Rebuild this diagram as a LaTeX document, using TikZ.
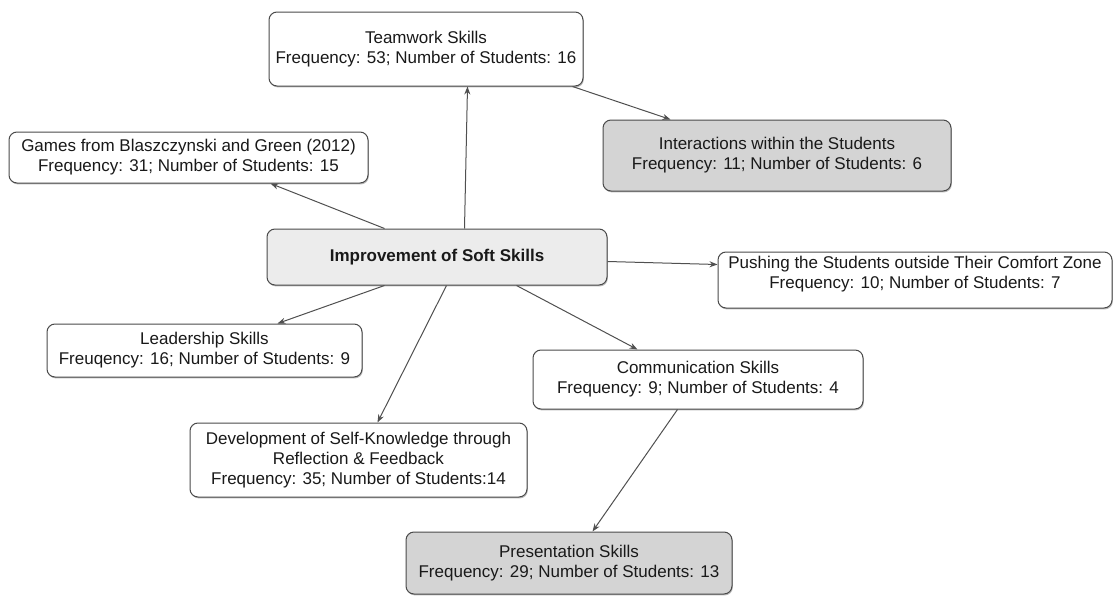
\documentclass[tikz,border=0pt]{standalone}
\usepackage{fontspec}
\setmainfont{Liberation Sans}
\usetikzlibrary{calc,arrows.meta,shadows}

\definecolor{edgegray}{HTML}{4A4A4A}
\definecolor{linkgray}{HTML}{505050}
\definecolor{hifill}{HTML}{D4D4D4}
\definecolor{corefill}{HTML}{ECECEC}

\tikzset{
  box/.style={draw=edgegray, line width=1pt, rounded corners=8pt, fill=white,
    align=center, inner sep=2pt, text=black!90,
    font=\fontsize{17}{20}\selectfont,
    drop shadow={shadow xshift=0.8pt, shadow yshift=-1.4pt, fill=black!45, opacity=0.6}},
  hi/.style={box, fill=hifill},
  core/.style={box, fill=corefill, font=\fontsize{17}{20}\selectfont\bfseries},
  link/.style={draw=linkgray, line width=1pt, -{Stealth[length=8pt,width=6pt]}},
}

\begin{document}
\begin{tikzpicture}[x=1pt, y=-1pt]
  \fill[white] (0,0) rectangle (1114,597);
  \useasboundingbox (0,0) rectangle (1114,597);

  % themes
  \node[box, minimum width=314pt, minimum height=74pt] (team) at (426,49)
    {Teamwork Skills\\Frequency: 53; Number of Students: 16};
  \node[hi, minimum width=348pt, minimum height=71pt] (inter) at (777,155.5)
    {Interactions within the Students\\Frequency: 11; Number of Students: 6};
  \node[box, minimum width=359pt, minimum height=51pt] (games) at (188.5,157.5)
    {Games from Blaszczynski and Green (2012)\\Frequency: 31; Number of Students: 15};
  \node[core, minimum width=340pt, minimum height=56pt] (soft) at (437,257)
    {Improvement of Soft Skills};
  \node[box, minimum width=394pt, minimum height=56pt] (push) at (915,280)
    {Pushing the Students outside Their Comfort Zone\\Frequency: 10; Number of Students: 7\\[-4pt]\mbox{}};
  \node[box, minimum width=315pt, minimum height=53pt] (lead) at (204.5,350.5)
    {Leadership Skills\\Freuqency: 16; Number of Students: 9};
  \node[box, minimum width=330pt, minimum height=59pt] (comm) at (698,379.5)
    {Communication Skills\\Frequency: 9; Number of Students: 4};
  \node[box, minimum width=337pt, minimum height=74pt] (dev) at (358.5,460)
    {Development of Self-Knowledge through\\Reflection \& Feedback\\Frequency: 35; Number of Students:14};
  \node[hi, minimum width=326pt, minimum height=62pt] (pres) at (569,563)
    {Presentation Skills\\Frequency: 29; Number of Students: 13};

  % links
  \draw[link] ($(soft.north west)+(198,0)$) -- ($(team.south west)+(199,0)$);
  \draw[link] ($(team.south east)+(-11,0)$) -- ($(inter.north west)+(68,0)$);
  \draw[link] ($(soft.north west)+(118,0)$) -- ($(games.south west)+(262,0)$);
  \draw[link] ($(soft.north east)+(0,33)$) -- ($(push.north west)+(0,13)$);
  \draw[link] ($(soft.south west)+(118,0)$) -- ($(lead.north west)+(231,0)$);
  \draw[link] ($(soft.south west)+(180,0)$) -- ($(dev.north west)+(188,0)$);
  \draw[link] ($(soft.south west)+(250,0)$) -- ($(comm.north west)+(105,0)$);
  \draw[link] ($(comm.south west)+(145,0)$) -- ($(pres.north west)+(187,0)$);
\end{tikzpicture}
\end{document}
